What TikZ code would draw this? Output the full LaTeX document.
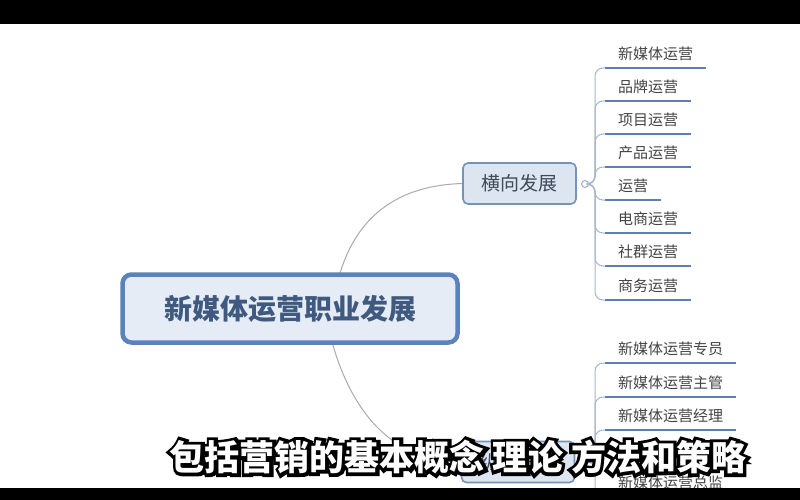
\documentclass[tikz,border=0pt]{standalone}
\usepackage{fontspec}
\setmainfont{Noto Sans CJK SC}
\newfontface\capline{Noto Sans CJK SC Bold}[FakeBold=20]
\usetikzlibrary{calc}
\definecolor{rootline}{HTML}{5B82BC}
\definecolor{rootfill}{HTML}{E5ECF6}
\definecolor{roottext}{HTML}{3F5A7E}
\definecolor{branchline}{HTML}{7592B8}
\definecolor{branchfill}{HTML}{DCE5F0}
\definecolor{branchtext}{HTML}{3E4A5A}
\definecolor{leaftext}{HTML}{444444}
\definecolor{ruleblue}{HTML}{5D7FB0}
\definecolor{twigblue}{HTML}{A3B6CC}
\definecolor{stemgray}{HTML}{ABABAB}
\definecolor{knobline}{HTML}{A0AEC0}
\begin{document}
\begin{tikzpicture}[x=1pt,y=-1pt]
	\tikzstyle{root}=[draw=rootline,line width=4.5pt,fill=rootfill,rounded corners=9pt,minimum width=335pt,minimum height=68pt,inner sep=0pt,font=\fontsize{28}{28}\selectfont\bfseries,text=roottext]
	\tikzstyle{branch}=[draw=branchline,line width=1.6pt,fill=branchfill,rounded corners=5pt,minimum width=113pt,minimum height=41pt,inner sep=0pt,font=\fontsize{19}{19}\selectfont,text=branchtext]
	\tikzstyle{knob}=[circle,draw=knobline,fill=white,line width=1pt,minimum size=7pt,inner sep=0pt]
	\tikzstyle{leaf}=[anchor=south west,inner xsep=13pt,inner ysep=6.3pt,text height=11pt,text depth=2pt,font=\fontsize{15}{15}\selectfont,text=leaftext]
	\tikzstyle{stem}=[draw=stemgray,line width=1pt]
	\tikzstyle{twig}=[draw=twigblue,line width=1pt,rounded corners=8pt]
	\tikzstyle{underline}=[draw=ruleblue,line width=2pt]
	\tikzstyle{caption}=[inner sep=0pt,font=\fontsize{35}{35}\selectfont\bfseries]

	\useasboundingbox (0,0) rectangle (800,500);
	\fill[white] (0,0) rectangle (800,500);

	% Branch nodes
	\node[branch] (b1) at (519.5,183.5) {横向发展};
	\node[branch] (b2) at (518,462) {纵向发展};
	\node[knob] (k1) at (585,184) {};
	\node[knob] (k2) at (585,462) {};

	% Leaves of the upper branch
	\foreach \y/\txt [count=\i] in {68/新媒体运营,101/品牌运营,134/项目运营,167/产品运营,200/运营,233/电商运营,266/社群运营,300/商务运营}
	{
		\node[leaf] (h\i) at (605,\y) {\txt};
		\draw[underline] (h\i.south west) -- (h\i.south east);
		\draw[twig] (k1.east) -- ++(6,0) |- (h\i.south west);
	}

	% Leaves of the lower branch
	\foreach \y/\txt [count=\i] in {363/新媒体运营专员,397/新媒体运营主管,430/新媒体运营经理,497/新媒体运营总监}
	{
		\node[leaf] (v\i) at (605,\y) {\txt};
		\draw[underline] (v\i.south west) -- (v\i.south east);
		\draw[twig] (k2.east) -- ++(6,0) |- (v\i.south west);
	}

	% Connect the root with both branches
	\coordinate (m1) at (338,280);
	\coordinate (m2) at (330,335);
	\draw[stem] (m1) .. controls (350,235) and (380,186) .. (b1.west);
	\draw[stem] (m2) .. controls (342,380) and (372,461) .. (b2.west);

	% Root node
	\node[root] (root) at (290,308.5) {新媒体运营职业发展};

	% Subtitle with outline
	\node[caption,text=black,font=\fontsize{35}{35}\capline] (shade) at (458,457) {包括营销的基本概念 理论 方法和策略};
	\node[caption,text=white] (subtitle) at (458,457) {包括营销的基本概念 理论 方法和策略};

	% Black bars
	\fill[black] (0,0) rectangle (800,24);
	\fill[black] (0,488) rectangle (800,500);
\end{tikzpicture}
\end{document}
